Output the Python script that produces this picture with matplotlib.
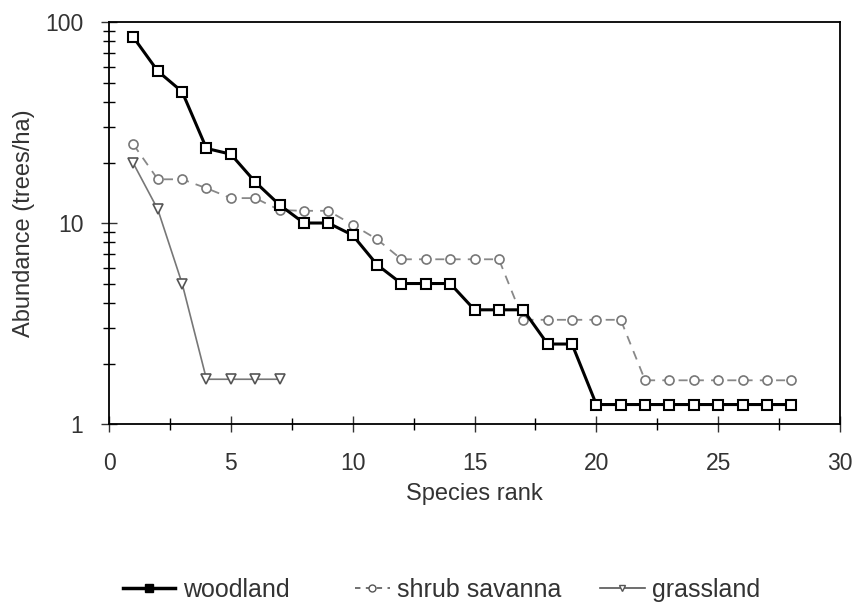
import matplotlib.pyplot as plt
from matplotlib.lines import Line2D
from matplotlib.ticker import MultipleLocator

plt.rcParams['font.family'] = ['Liberation Sans', 'DejaVu Sans']

woodland_rank = list(range(1, 29))
woodland = [84, 57, 45, 23.5, 22, 16, 12.3, 10, 10, 8.7, 6.2, 5, 5, 5,
            3.7, 3.7, 3.7, 2.5, 2.5, 1.25, 1.25, 1.25, 1.25, 1.25, 1.25, 1.25, 1.25, 1.25]

shrub_rank = list(range(1, 29))
shrub = [24.6, 16.5, 16.5, 14.9, 13.3, 13.3, 11.6, 11.5, 11.5, 9.8, 8.3,
         6.6, 6.6, 6.6, 6.6, 6.6, 3.3, 3.3, 3.3, 3.3, 3.3,
         1.65, 1.65, 1.65, 1.65, 1.65, 1.65, 1.65]

grass_rank = list(range(1, 8))
grass = [19.8, 11.7, 5.0, 1.67, 1.67, 1.67, 1.67]

txt = '#333333'
fs = 16.5

fig = plt.figure(figsize=(8.53, 6.08), dpi=100)
ax = fig.add_axes([0.1278, 0.3026, 0.857, 0.6612])

ax.plot(woodland_rank, woodland, color='black', lw=2.2, marker='s', ms=7.5,
        mfc='white', mec='black', mew=1.5, zorder=3)
ax.plot(shrub_rank, shrub, color='#888888', lw=1.3, ls=(0, (5, 4)), marker='o', ms=6.5,
        mfc='white', mec='#777777', mew=1.2, zorder=2)
ax.plot(grass_rank, grass, color='#777777', lw=1.2, marker='v', ms=6.5,
        mfc='white', mec='#555555', mew=1.2, zorder=2)

ax.set_yscale('log')
ax.set_xlim(0, 30)
ax.set_ylim(1, 100)
ax.set_xticks([0, 5, 10, 15, 20, 25, 30])
ax.xaxis.set_minor_locator(MultipleLocator(2.5))
ax.set_yticks([1, 10, 100])
ax.set_yticklabels(['1', '10', '100'])
ax.tick_params(axis='both', which='major', direction='inout', length=12, width=1,
               labelsize=fs, colors=txt)
ax.tick_params(axis='y', which='major', pad=12.5)
ax.tick_params(axis='x', which='major', pad=14)
ax.tick_params(axis='both', which='minor', direction='inout', length=9, width=1)
ax.yaxis.set_minor_formatter(plt.NullFormatter())
for s in ax.spines.values():
    s.set_linewidth(1.3)

ax.set_xlabel('Species rank', fontsize=17, color=txt, labelpad=6)
ax.set_ylabel('Abundance (trees/ha)', fontsize=17, color=txt, labelpad=7)

handles = [
    Line2D([], [], color='black', lw=2.5, marker='s', ms=6, mfc='black', mec='black'),
    Line2D([], [], color='#666666', lw=1.3, ls=(0, (3, 3)), marker='o', ms=5,
           mfc='white', mec='#555555'),
    Line2D([], [], color='#555555', lw=1.2, marker='v', ms=5, mfc='white', mec='#555555'),
]
labels = ['woodland', 'shrub savanna', 'grassland']
xpos = [0.144, 0.416, 0.703]
hlen = [2.1, 1.4, 1.8]
for h, lab, x, hl in zip(handles, labels, xpos, hlen):
    leg = fig.legend([h], [lab], loc='center left', bbox_to_anchor=(x, 0.03),
                     frameon=False, fontsize=18, handlelength=hl, handletextpad=0.3,
                     borderpad=0, borderaxespad=0)
    for t in leg.get_texts():
        t.set_color(txt)

fig.savefig('out.png', dpi=100)
